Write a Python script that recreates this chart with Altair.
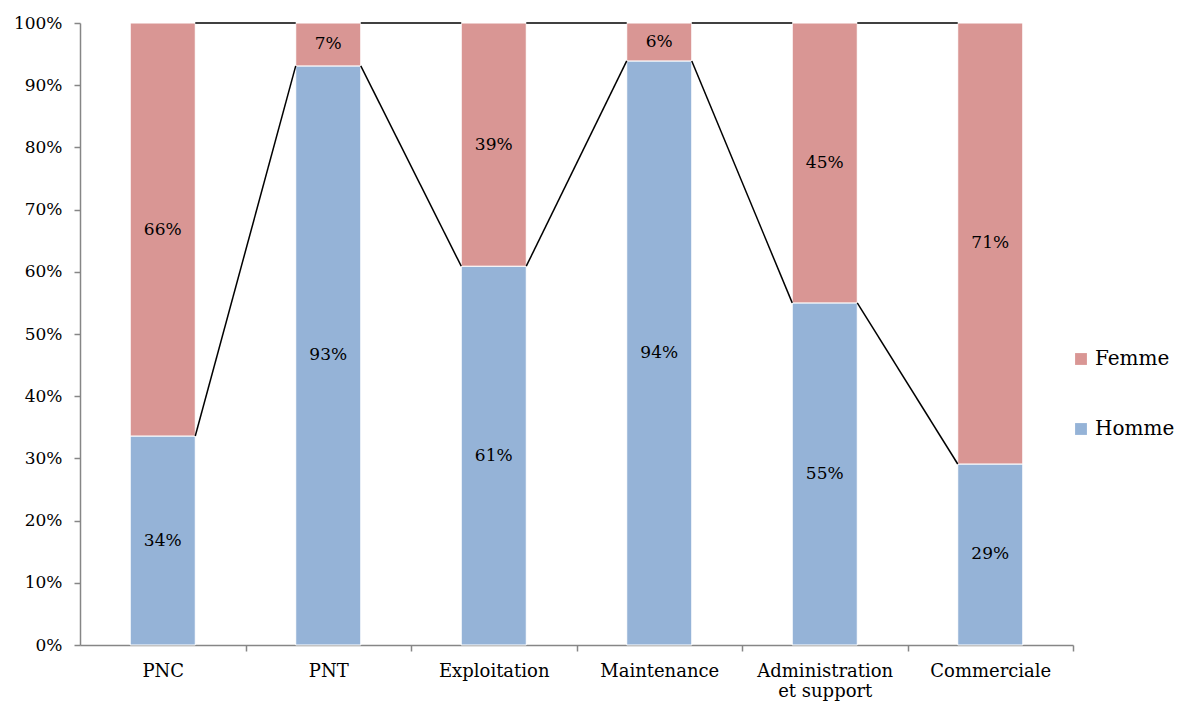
import altair as alt
import pandas as pd

categories = ["PNC", "PNT", "Exploitation", "Maintenance", "Administration et support", "Commerciale"]
homme = [33.6, 93.1, 60.9, 93.9, 55.0, 29.1]
femme = [66.4, 6.9, 39.1, 6.1, 45.0, 70.9]
series = ["Femme", "Homme"]
colors = ["#D99694", "#95B3D7"]

FONT = "DejaVu Serif"
STEP = 993 / 6

rows = []
for c, h, f in zip(categories, homme, femme):
    rows.append({"cat": c, "serie": "Homme", "value": h, "ord": 0})
    rows.append({"cat": c, "serie": "Femme", "value": f, "ord": 1})
df = pd.DataFrame(rows)

# series lines between consecutive bars
lines = []
for i in range(len(categories) - 1):
    lines.append({"cat": categories[i], "next": categories[i + 1],
                  "y": homme[i], "y2": homme[i + 1]})
    lines.append({"cat": categories[i], "next": categories[i + 1],
                  "y": homme[i] + femme[i], "y2": homme[i + 1] + femme[i + 1]})
ldf = pd.DataFrame(lines)

xscale = alt.Scale(domain=categories, paddingInner=0.607, paddingOuter=0.3035)
yscale = alt.Scale(domain=[0, 100], nice=False)

xaxis = alt.Axis(
    title=None, labelAngle=0, labelFont=FONT, labelFontSize=18, labelColor="#000000",
    domainColor="#868686", domainWidth=1.5, tickColor="#868686", tickWidth=1.5,
    tickSize=6, bandPosition=0.5, tickOffset=STEP / 2, labelOffset=-STEP / 2,
    labelAlign="center", labelBaseline="top", labelPadding=11, labelLineHeight=20,
    labelExpr="datum.value == 'Administration et support' ? ['Administration', 'et support'] : datum.value",
)
yaxis = alt.Axis(
    title=None, values=list(range(0, 101, 10)), labelExpr="datum.value + '%'",
    labelFont=FONT, labelFontSize=17, labelColor="#000000", grid=False,
    domainColor="#868686", domainWidth=1.5, tickColor="#868686", tickWidth=1.5,
    tickSize=6, labelPadding=12,
)

base = alt.Chart(df)

bars = base.mark_bar(stroke="white", strokeWidth=1).encode(
    x=alt.X("cat:N", scale=xscale, axis=xaxis, sort=categories),
    y=alt.Y("value:Q", stack=True, scale=yscale, axis=yaxis),
    color=alt.Color("serie:N", scale=alt.Scale(domain=series, range=colors),
                    legend=alt.Legend(title=None, orient="none", legendX=991, legendY=326,
                                      labelFont=FONT, labelFontSize=20, labelColor="#000000",
                                      symbolType="square", symbolSize=140, symbolStrokeWidth=0,
                                      rowPadding=50, labelOffset=4)),
    order=alt.Order("ord:Q"),
)

labels = base.transform_stack(
    stack="value", as_=["v0", "v1"], groupby=["cat"], sort=[alt.SortField("ord")]
).transform_calculate(
    mid="(datum.v0 + datum.v1) / 2",
    txt="round(datum.value) + '%'",
).mark_text(font=FONT, fontSize=17, color="#000000").encode(
    x=alt.X("cat:N", scale=xscale, sort=categories, axis=xaxis),
    y=alt.Y("mid:Q", scale=yscale),
    text="txt:N",
)

rules = alt.Chart(ldf).mark_rule(color="#000000", strokeWidth=1.5).encode(
    x=alt.X("cat:N", scale=xscale, sort=categories, bandPosition=1, axis=xaxis),
    x2=alt.X2("next", bandPosition=0),
    y=alt.Y("y:Q", scale=yscale, axis=yaxis),
    y2="y2:Q",
)

chart = alt.layer(bars, labels, rules).properties(
    width=993, height=622,
    padding={"left": 72, "top": 15, "right": 103, "bottom": 56},
    autosize=alt.AutoSizeParams(type="none"),
).configure_view(stroke=None)

chart.save("out.html", embed_options={"renderer": "svg", "actions": False})
